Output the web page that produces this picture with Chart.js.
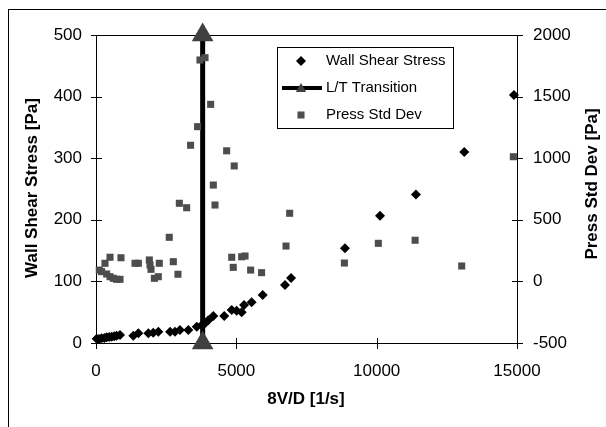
<!DOCTYPE html>
<html lang="en">
<head>
<meta charset="UTF-8">
<title>Wall Shear Stress vs 8V/D</title>
<script src="https://cdn.jsdelivr.net/npm/chart.js"></script>
<style>
body { margin:0; padding:0; background:#fff; overflow:hidden; }
#wrap { position:relative; width:606px; height:427px; overflow:hidden; }
#frame { position:absolute; left:8px; top:9px; width:700px; height:500px; border:1px solid #000; }
#chart { position:absolute; left:0; top:0; }
</style>
</head>
<body>
<div id="wrap">
<div id="frame"></div>
<canvas id="chart" width="606" height="427"></canvas>
</div>

<script>
// data
const wssX = [24, 110, 200, 300, 380, 470, 560, 650, 735, 855, 1330, 1510, 1865, 2040, 2220, 2640, 2815, 2990, 3290, 3590, 3765, 3885, 4000, 4180, 4570, 4835, 5010, 5190, 5275, 5545, 5940, 6735, 6950, 8870, 10120, 11400, 13120, 14890];
const wssY = [7, 6.5, 7.6, 8.2, 9.2, 9.6, 10.2, 11, 11.9, 13, 11.9, 15.7, 15.7, 16.8, 18.4, 18.4, 18.4, 21, 21, 26.5, 29, 32, 37, 44, 44, 53.6, 52.4, 49.8, 61.7, 66, 78, 94, 105.5, 153.7, 206.6, 241, 310, 402.6];

const ltX = [3800, 3800];
const ltY = [0, 500];

const psdX = [118, 200, 320, 380, 500, 500, 615, 735, 855, 890, 1390, 1510, 1900, 1925, 1960, 2080, 2220, 2255, 2610, 2755, 2920, 2970, 3230, 3370, 3620, 3705, 3885, 4085, 4180, 4240, 4655, 4835, 4890, 4925, 5190, 5310, 5510, 5900, 6770, 6900, 8850, 10060, 11370, 13030, 14870];
const psdY = [92, 79, 147, 60, 196, 38, 25, 17, 17, 192, 147, 147, 174, 133, 98, 25, 38, 147, 358, 160, 58, 634, 598, 1105, 1256, 1797, 1816, 1437, 782, 620, 1060, 196, 114, 937, 200, 206, 92, 71, 287, 553, 149, 309, 334, 125, 1012];

const xTicks = [0, 5000, 10000, 15000];
const yTicks = [0, 100, 200, 300, 400, 500];
const y2Ticks = [-500, 0, 500, 1000, 1500, 2000];

const pts = (xs, ys) => xs.map((x, i) => ({x: x, y: ys[i]}));

Chart.defaults.font.family = '"Liberation Sans", Arial, sans-serif';
Chart.defaults.color = '#000';

// box round the plot, ticks crossing the axes, titles and legend
const decor = {
  id: 'decor',
  beforeDatasetsDraw(chart) {
    const {ctx, chartArea: a, scales} = chart;
    ctx.save();
    ctx.strokeStyle = '#000';
    ctx.lineWidth = 1;
    ctx.strokeRect(a.left + 0.5, a.top + 0.5, a.right - a.left, a.bottom - a.top);
    ctx.beginPath();
    scales.y.ticks.forEach((t, i) => {
      const y = Math.round(scales.y.getPixelForTick(i)) + 0.5;
      ctx.moveTo(a.left - 5, y); ctx.lineTo(a.left + 6, y);
    });
    scales.y2.ticks.forEach((t, i) => {
      const y = Math.round(scales.y2.getPixelForTick(i)) + 0.5;
      ctx.moveTo(a.right - 5, y); ctx.lineTo(a.right + 6, y);
    });
    scales.x.ticks.forEach((t, i) => {
      const x = Math.round(scales.x.getPixelForTick(i)) + 0.5;
      ctx.moveTo(x, a.bottom - 5); ctx.lineTo(x, a.bottom + 6);
    });
    ctx.stroke();
    ctx.restore();
  },
  afterDraw(chart) {
    const {ctx} = chart;
    ctx.save();
    ctx.fillStyle = '#000';
    ctx.font = 'bold 17px "Liberation Sans", Arial, sans-serif';
    ctx.textAlign = 'center';
    ctx.textBaseline = 'middle';
    ctx.fillText('8V/D [1/s]', 306, 399);
    ctx.save();
    ctx.translate(32, 188);
    ctx.rotate(-Math.PI / 2);
    ctx.fillText('Wall Shear Stress [Pa]', 0, 0);
    ctx.restore();
    ctx.save();
    ctx.translate(592, 184);
    ctx.rotate(-Math.PI / 2);
    ctx.fillText('Press Std Dev [Pa]', 0, 0);
    ctx.restore();

    // legend
    ctx.fillStyle = '#fff';
    ctx.fillRect(277, 47, 176, 81);
    ctx.strokeStyle = '#000';
    ctx.lineWidth = 1;
    ctx.strokeRect(277.5, 47.5, 176, 81);
    const ds = chart.data.datasets;
    const rows = [61, 88, 115];
    ctx.font = '15px "Liberation Sans", Arial, sans-serif';
    ctx.textAlign = 'left';
    ds.forEach((d, i) => {
      const y = rows[i];
      if (d.showLine) {
        ctx.strokeStyle = d.borderColor;
        ctx.lineWidth = 4;
        ctx.beginPath();
        ctx.moveTo(282, y); ctx.lineTo(322, y);
        ctx.stroke();
        ctx.fillStyle = d.pointBackgroundColor;
        Chart.helpers.drawPoint(ctx, {pointStyle: d.pointStyle, radius: 6, borderWidth: 0}, 301, y + 1);
      } else {
        ctx.fillStyle = d.backgroundColor;
        ctx.strokeStyle = d.borderColor;
        Chart.helpers.drawPoint(ctx, {pointStyle: d.pointStyle, radius: d.pointRadius, borderWidth: 0}, 301, y);
      }
      ctx.fillStyle = '#000';
      ctx.fillText(d.label, 326, y);
    });
    ctx.restore();
  }
};

const plain = v => String(v);

new Chart(document.getElementById('chart'), {
  type: 'scatter',
  data: {
    datasets: [
      {
        label: 'Wall Shear Stress',
        data: pts(wssX, wssY),
        yAxisID: 'y',
        pointStyle: 'rectRot',
        pointRadius: 5,
        backgroundColor: '#000',
        borderColor: '#000',
        borderWidth: 0,
        order: 3,
        clip: false
      },
      {
        label: 'L/T Transition',
        data: pts(ltX, ltY),
        yAxisID: 'y',
        showLine: true,
        borderColor: '#000',
        borderWidth: 5,
        pointStyle: 'triangle',
        pointRadius: 12.5,
        pointBackgroundColor: '#404040',
        pointBorderColor: '#404040',
        pointBorderWidth: 0,
        order: 2,
        clip: false
      },
      {
        label: 'Press Std Dev',
        data: pts(psdX, psdY),
        yAxisID: 'y2',
        pointStyle: 'rect',
        pointRadius: 5,
        backgroundColor: '#4d4d4d',
        borderColor: '#4d4d4d',
        borderWidth: 0,
        order: 1,
        clip: false
      }
    ]
  },
  options: {
    responsive: false,
    animation: false,
    devicePixelRatio: 1,
    layout: { padding: { top: 35, left: 0, right: 0, bottom: 0 } },
    plugins: { legend: { display: false }, tooltip: { enabled: false } },
    scales: {
      x: {
        type: 'linear',
        min: xTicks[0], max: xTicks[xTicks.length - 1],
        afterBuildTicks: s => { s.ticks = xTicks.map(v => ({value: v})); },
        afterFit: s => { s.height = 84; },
        grid: { display: false, drawTicks: false },
        border: { display: false },
        ticks: { font: { size: 17 }, padding: 18, maxRotation: 0, callback: plain }
      },
      y: {
        type: 'linear', position: 'left',
        min: yTicks[0], max: yTicks[yTicks.length - 1],
        afterBuildTicks: s => { s.ticks = yTicks.map(v => ({value: v})); },
        afterFit: s => { s.width = 96; },
        grid: { display: false, drawTicks: false },
        border: { display: false },
        ticks: { font: { size: 17 }, padding: 14, callback: plain }
      },
      y2: {
        type: 'linear', position: 'right',
        min: y2Ticks[0], max: y2Ticks[y2Ticks.length - 1],
        afterBuildTicks: s => { s.ticks = y2Ticks.map(v => ({value: v})); },
        afterFit: s => { s.width = 89; },
        grid: { display: false, drawTicks: false },
        border: { display: false },
        ticks: { font: { size: 17 }, padding: 16, callback: plain }
      }
    }
  },
  plugins: [decor]
});
</script>
</body>
</html>
